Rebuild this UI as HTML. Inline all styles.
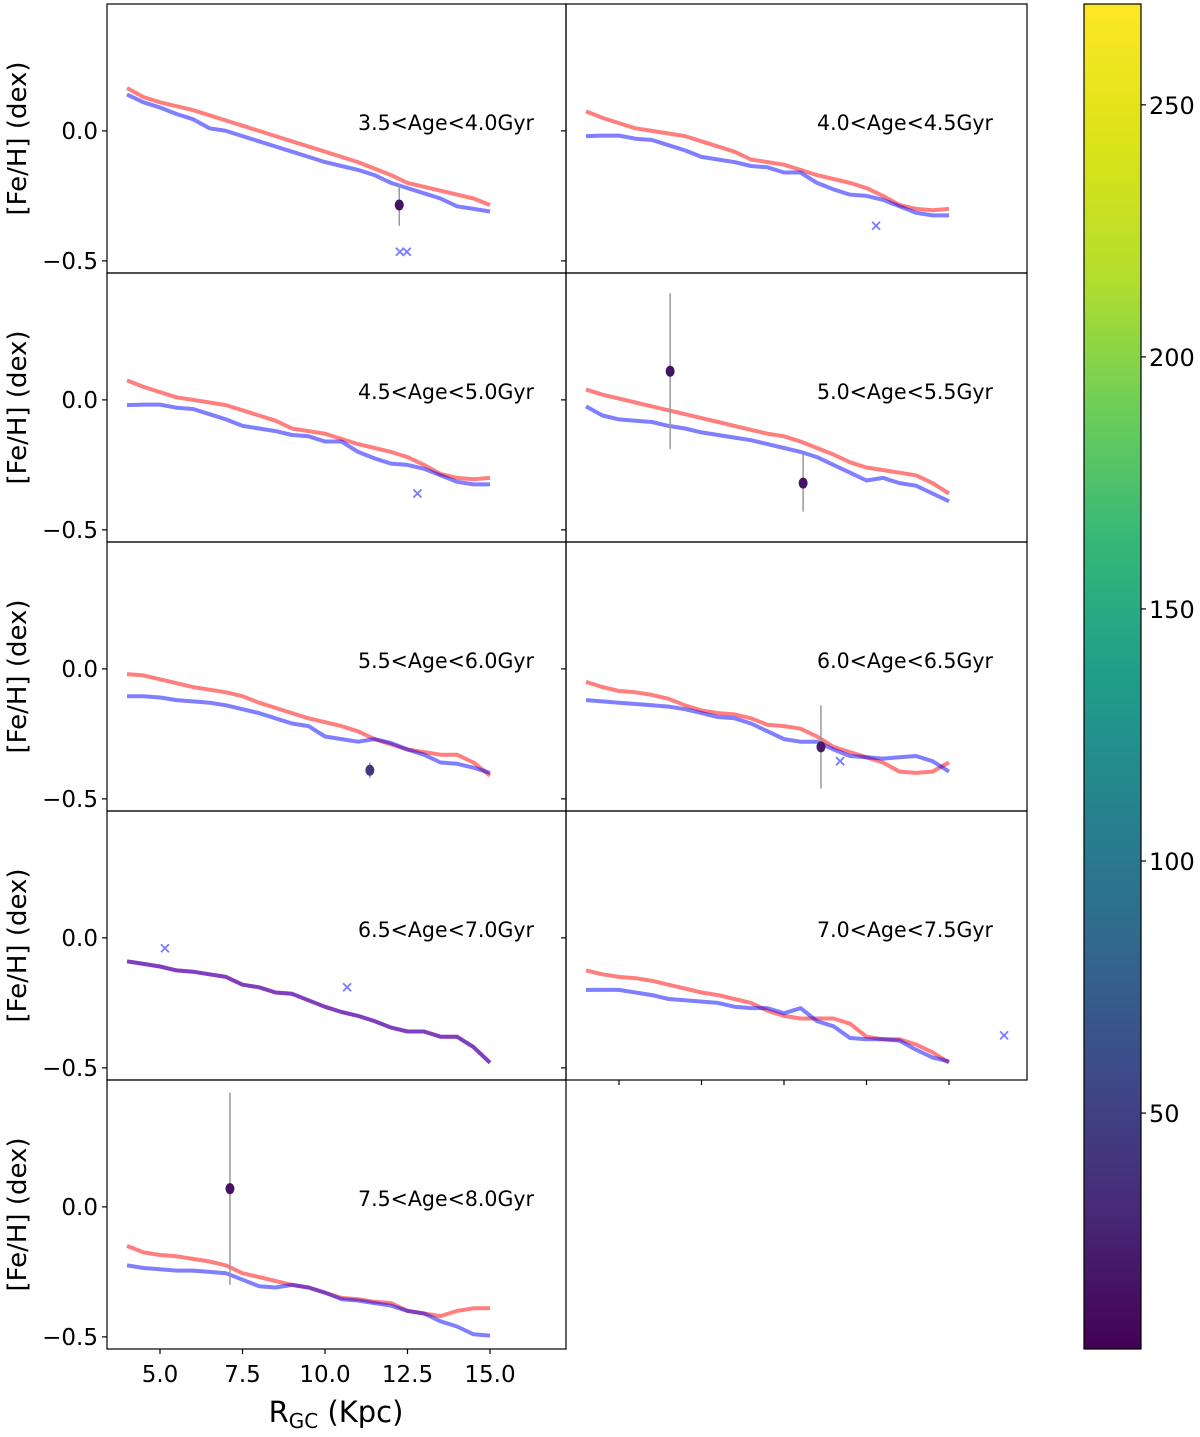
<!DOCTYPE html>
<html><head><meta charset="utf-8"><style>
html,body{margin:0;padding:0;background:#fff;}
svg text{font-family:"DejaVu Sans","Liberation Sans",sans-serif;fill:#000;}
</style></head><body>
<svg id="chart" width="1200" height="1432" viewBox="0 0 1200 1432" xmlns="http://www.w3.org/2000/svg">
<defs>
<linearGradient id="viridis" x1="0" y1="1" x2="0" y2="0">
<stop offset="0" stop-color="#440154"/><stop offset="0.1" stop-color="#482878"/><stop offset="0.2" stop-color="#3e4989"/><stop offset="0.3" stop-color="#31688e"/><stop offset="0.4" stop-color="#26828e"/><stop offset="0.5" stop-color="#1f9e89"/><stop offset="0.6" stop-color="#35b779"/><stop offset="0.7" stop-color="#6ece58"/><stop offset="0.8" stop-color="#b5de2b"/><stop offset="0.9" stop-color="#dde318"/><stop offset="1" stop-color="#fde725"/>
</linearGradient>
</defs>
</svg>
<script>
const xs = [4,4.5,5,5.5,6,6.5,7,7.5,8,8.5,9,9.5,10,10.5,11,11.5,12,12.5,13,13.5,14,14.5,15];
const panelLabels = ["3.5<Age<4.0Gyr","4.0<Age<4.5Gyr","4.5<Age<5.0Gyr","5.0<Age<5.5Gyr","5.5<Age<6.0Gyr","6.0<Age<6.5Gyr","6.5<Age<7.0Gyr","7.0<Age<7.5Gyr","7.5<Age<8.0Gyr"];
const redSeries = [
[0.165,0.13,0.11,0.095,0.08,0.06,0.04,0.02,0.0,-0.02,-0.04,-0.06,-0.08,-0.1,-0.12,-0.145,-0.17,-0.2,-0.215,-0.23,-0.245,-0.26,-0.285],
[0.075,0.05,0.03,0.01,0.0,-0.01,-0.02,-0.04,-0.06,-0.08,-0.11,-0.12,-0.13,-0.15,-0.17,-0.185,-0.2,-0.22,-0.25,-0.285,-0.3,-0.305,-0.3],
[0.075,0.05,0.03,0.01,0.0,-0.01,-0.02,-0.04,-0.06,-0.08,-0.11,-0.12,-0.13,-0.15,-0.17,-0.185,-0.2,-0.22,-0.25,-0.285,-0.3,-0.305,-0.3],
[0.04,0.02,0.005,-0.01,-0.025,-0.04,-0.055,-0.07,-0.085,-0.1,-0.115,-0.13,-0.14,-0.16,-0.185,-0.21,-0.24,-0.26,-0.27,-0.28,-0.29,-0.32,-0.36],
[-0.02,-0.025,-0.04,-0.055,-0.07,-0.08,-0.09,-0.105,-0.13,-0.15,-0.17,-0.19,-0.205,-0.22,-0.24,-0.27,-0.29,-0.31,-0.32,-0.33,-0.33,-0.36,-0.41],
[-0.05,-0.07,-0.085,-0.09,-0.1,-0.115,-0.14,-0.16,-0.17,-0.175,-0.19,-0.215,-0.22,-0.23,-0.26,-0.3,-0.32,-0.34,-0.36,-0.395,-0.4,-0.395,-0.36],
[-0.09,-0.1,-0.11,-0.125,-0.13,-0.14,-0.15,-0.18,-0.19,-0.21,-0.215,-0.24,-0.265,-0.285,-0.3,-0.32,-0.345,-0.36,-0.36,-0.38,-0.38,-0.42,-0.48],
[-0.125,-0.14,-0.15,-0.155,-0.165,-0.18,-0.195,-0.21,-0.22,-0.235,-0.25,-0.28,-0.3,-0.31,-0.31,-0.31,-0.33,-0.38,-0.39,-0.39,-0.41,-0.44,-0.48],
[-0.15,-0.175,-0.185,-0.19,-0.2,-0.21,-0.225,-0.255,-0.27,-0.285,-0.3,-0.31,-0.33,-0.35,-0.355,-0.365,-0.37,-0.4,-0.41,-0.42,-0.4,-0.39,-0.39]
];
const blueSeries = [
[0.14,0.11,0.09,0.065,0.045,0.01,0.0,-0.02,-0.04,-0.06,-0.08,-0.1,-0.12,-0.135,-0.15,-0.17,-0.2,-0.22,-0.24,-0.26,-0.29,-0.3,-0.31],
[-0.02,-0.018,-0.018,-0.03,-0.035,-0.055,-0.075,-0.1,-0.11,-0.12,-0.135,-0.14,-0.16,-0.16,-0.2,-0.225,-0.245,-0.25,-0.265,-0.29,-0.315,-0.325,-0.325],
[-0.02,-0.018,-0.018,-0.03,-0.035,-0.055,-0.075,-0.1,-0.11,-0.12,-0.135,-0.14,-0.16,-0.16,-0.2,-0.225,-0.245,-0.25,-0.265,-0.29,-0.315,-0.325,-0.325],
[-0.025,-0.06,-0.075,-0.08,-0.085,-0.1,-0.11,-0.125,-0.135,-0.145,-0.155,-0.17,-0.185,-0.2,-0.22,-0.25,-0.28,-0.31,-0.3,-0.32,-0.33,-0.36,-0.39],
[-0.105,-0.105,-0.11,-0.12,-0.125,-0.13,-0.14,-0.155,-0.17,-0.19,-0.21,-0.22,-0.26,-0.27,-0.28,-0.27,-0.285,-0.31,-0.33,-0.36,-0.365,-0.38,-0.4],
[-0.12,-0.125,-0.13,-0.135,-0.14,-0.145,-0.155,-0.17,-0.185,-0.19,-0.21,-0.24,-0.27,-0.28,-0.28,-0.31,-0.335,-0.34,-0.345,-0.34,-0.335,-0.355,-0.395],
[-0.09,-0.1,-0.11,-0.125,-0.13,-0.14,-0.15,-0.18,-0.19,-0.21,-0.215,-0.24,-0.265,-0.285,-0.3,-0.32,-0.345,-0.36,-0.36,-0.38,-0.38,-0.42,-0.48],
[-0.2,-0.2,-0.2,-0.21,-0.22,-0.235,-0.24,-0.245,-0.25,-0.265,-0.27,-0.27,-0.29,-0.27,-0.32,-0.34,-0.385,-0.39,-0.39,-0.395,-0.43,-0.46,-0.475],
[-0.225,-0.235,-0.24,-0.245,-0.245,-0.25,-0.255,-0.28,-0.305,-0.31,-0.3,-0.31,-0.33,-0.355,-0.36,-0.37,-0.38,-0.4,-0.41,-0.44,-0.46,-0.49,-0.495]
];
const pointPanel = [0,3,3,4,5,8];
const pointX = [12.25,6.55,10.58,11.36,11.12,7.12];
const pointY = [-0.285,0.11,-0.32,-0.39,-0.3,0.07];
const pointErr = [0.08,0.3,0.11,0.03,0.16,0.37];
const pointVal = [15,15,15,40,20,15];
const crossPanel = [0,0,1,2,5,6,6,7];
const crossX = [12.27,12.48,12.79,12.8,11.7,5.15,10.67,16.67];
const crossY = [-0.465,-0.465,-0.365,-0.36,-0.355,-0.04,-0.19,-0.375];
const yTicks = [0.0,-0.5];
const yTickLabels = ["0.0","\u22120.5"];
const xTicks = [5,7.5,10,12.5,15];
const xTickLabels = ["5.0","7.5","10.0","12.5","15.0"];
const cbTicks = [50,100,150,200,250];

const NS="http://www.w3.org/2000/svg";
const svg=document.getElementById('chart');
function mk(tag,attrs,parent){const e=document.createElementNS(NS,tag);for(const k in attrs)e.setAttribute(k,attrs[k]);(parent||svg).appendChild(e);return e;}
const colX=[107,566], colW=[459,461], rowY=[4,273,542,811,1080], rowH=269;
const xMin=3.394;const pxPerX=33;
const yMax=0.488;const pxPerY=260;
function viridis(v){const s=[[68,1,84],[72,40,120],[62,73,137],[49,104,142],[38,130,142],[31,158,137],[53,183,121],[110,206,88],[181,222,43],[221,227,24],[253,231,37]];let t=(v-3.2)/(270-3.2)*10;t=Math.max(0,Math.min(10,t));const i=Math.min(9,Math.floor(t)),f=t-i;const c=s[i].map((a,j)=>Math.round(a+(s[i+1][j]-a)*f));return `rgb(${c})`;}

for(let p=0;p<9;p++){
  const col=p%2,row=Math.floor(p/2);
  const x0=colX[col],y0=rowY[row];
  const sx=v=>x0+(v-xMin)*pxPerX;
  const sy=v=>y0+(yMax-v)*pxPerY;
  const g=mk('g',{});
  
  
  const clip=mk('clipPath',{id:'c'+p},g);mk('rect',{x:x0,y:y0,width:colW[col],height:rowH},clip);
  const pg=mk('g',{'clip-path':'url(#c'+p+')'},g);
  const mkLine=(arr,color,name)=>{const d=arr.map((v,i)=>(i?'L':'M')+sx(xs[i]).toFixed(1)+','+sy(v).toFixed(1)).join('');const l=mk('path',{d:d,fill:'none',stroke:color,'stroke-opacity':0.5,'stroke-width':4,'stroke-linejoin':'round'},pg);
    
    };
  mkLine(redSeries[p],'#ff0000','red-line');
  mkLine(blueSeries[p],'#0000ff','blue-line');
  crossX.forEach((cx,i)=>{if(crossPanel[i]!==p)return;const X=sx(cx),Y=sy(crossY[i]);const c=mk('path',{d:`M${X-4},${Y-4}L${X+4},${Y+4}M${X-4},${Y+4}L${X+4},${Y-4}`,stroke:'#7b7bff','stroke-width':1.8},pg);
    
    });
  pointX.forEach((px,i)=>{if(pointPanel[i]!==p)return;const X=sx(px),Y=sy(pointY[i]);
    mk('line',{x1:X,x2:X,y1:sy(pointY[i]+pointErr[i]),y2:sy(pointY[i]-pointErr[i]),stroke:'#999','stroke-width':1.5},pg);
    const e=mk('ellipse',{cx:X,cy:Y,rx:4.5,ry:5.5,fill:viridis(pointVal[i])},pg);
    
    });
  const t=mk('text',{x:x0+251,y:y0+126,'font-size':21,textLength:176,lengthAdjust:'spacingAndGlyphs'},g);t.textContent=panelLabels[p];
  
  
  mk('rect',{x:x0,y:y0,width:colW[col],height:rowH,fill:'none',stroke:'#000','stroke-width':1.2},g);
  yTicks.forEach((v,i)=>{mk('line',{x1:x0-5,x2:x0,y1:sy(v),y2:sy(v),stroke:'#000','stroke-width':1.2},g);
    if(col===0){const tl=mk('text',{x:x0-9,y:sy(v)+8,'font-size':23,'text-anchor':'end'},g);tl.textContent=yTickLabels[i];
      
      }});
  if(col===0){const yl=mk('text',{transform:`translate(26,${y0+rowH/2}) rotate(-90)`,'font-size':26,'text-anchor':'middle'},g);yl.textContent='[Fe/H] (dex)';
    
    }
  if(p===7||p===8){xTicks.forEach((v,i)=>{mk('line',{x1:sx(v),x2:sx(v),y1:y0+rowH,y2:y0+rowH+5,stroke:'#000','stroke-width':1.2},g);
    if(p===8){const xl=mk('text',{x:sx(v),y:y0+rowH+33,'font-size':23,'text-anchor':'middle'},g);xl.textContent=xTickLabels[i];
      
      }});}
}
const xt=mk('text',{x:336,y:1422,'font-size':29,'text-anchor':'middle'});


xt.innerHTML='R<tspan font-size="20" dy="6">GC</tspan><tspan dy="-6"> (Kpc)</tspan>';
const cb=mk('rect',{x:1084,y:4,width:57,height:1345,fill:'url(#viridis)',stroke:'#000','stroke-width':1.2});


cbTicks.forEach(v=>{const y=1349-(v-3.2)/(270-3.2)*1345;mk('line',{x1:1141,x2:1146,y1:y,y2:y,stroke:'#000','stroke-width':1.2});
  const t=mk('text',{x:1149,y:y+9,'font-size':24},svg);t.textContent=String(v);
  
  });
</script>
</body></html>
